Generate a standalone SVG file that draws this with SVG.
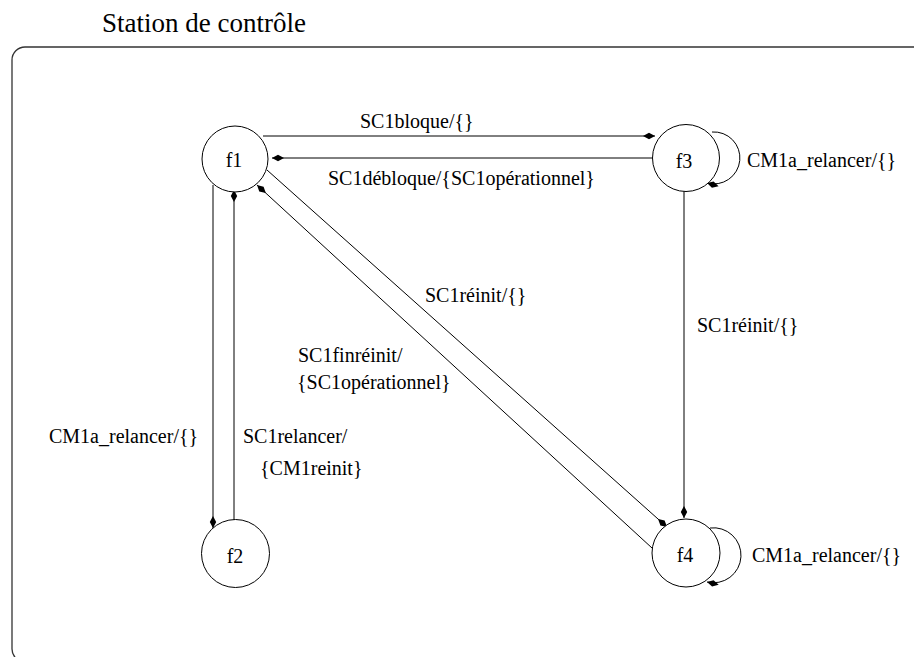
<svg xmlns="http://www.w3.org/2000/svg" width="914" height="657" viewBox="0 0 914 657">
<style>
.frame{fill:none;stroke:#333;stroke-width:1.3}
.state{fill:#fff;stroke:#000;stroke-width:1}
.edge{fill:none;stroke:#000;stroke-width:1;marker-end:url(#arr)}
text{font-family:'Liberation Serif','Tinos','Times New Roman','DejaVu Serif',serif;font-size:20px;fill:#000}
.title{font-size:27px}
.st{text-anchor:middle}
</style>
<defs>
<marker id="arr" markerUnits="userSpaceOnUse" markerWidth="14" markerHeight="8" refX="12" refY="4" orient="auto" overflow="visible">
<path d="M12,4 L6,0.8 L0,4 L6,7.2 Z" fill="#000"/>
</marker>
</defs>
<rect class="frame" x="12" y="47" width="915" height="615" rx="13" ry="13"/>
<text class="title" x="102" y="32" font-family="Liberation Serif, serif">Station de contrôle</text>
<g id="connectors">
<path class="edge" d="M263,136 L655,136"/>
<path class="edge" d="M652,158 L272,158"/>
<path class="edge" d="M712,132 A26,26 0 1 1 707,183"/>
<path class="edge" d="M684,191 L684,518"/>
<path class="edge" d="M710,528 A27.5,27.5 0 1 1 707,582"/>
<path class="edge" d="M213,185 L213,528"/>
<path class="edge" d="M234,520 L234,190"/>
<path class="edge" d="M267,170 L667,527"/>
<path class="edge" d="M652,548 L257,185"/>
</g>
<g id="labels" font-family="Liberation Serif, serif">
<text x="360" y="128">SC1bloque/{}</text>
<text x="328" y="185">SC1débloque/{SC1opérationnel}</text>
<text x="747" y="167">CM1a_relancer/{}</text>
<text x="425" y="302">SC1réinit/{}</text>
<text x="697" y="332">SC1réinit/{}</text>
<text x="298" y="362">SC1finréinit/</text>
<text x="297" y="389">{SC1opérationnel}</text>
<text x="49" y="443">CM1a_relancer/{}</text>
<text x="243" y="443">SC1relancer/</text>
<text x="260" y="475">{CM1reinit}</text>
<text x="752" y="562">CM1a_relancer/{}</text>
</g>
<g id="f1"><circle class="state" cx="235" cy="159" r="33"/><text class="st" x="234" y="167">f1</text></g>
<g id="f2"><circle class="state" cx="235.5" cy="553.5" r="34"/><text class="st" x="235" y="563">f2</text></g>
<g id="f3"><circle class="state" cx="686" cy="158" r="33.5"/><text class="st" x="684" y="168">f3</text></g>
<g id="f4"><circle class="state" cx="686" cy="553" r="34"/><text class="st" x="685" y="562">f4</text></g>
</svg>
